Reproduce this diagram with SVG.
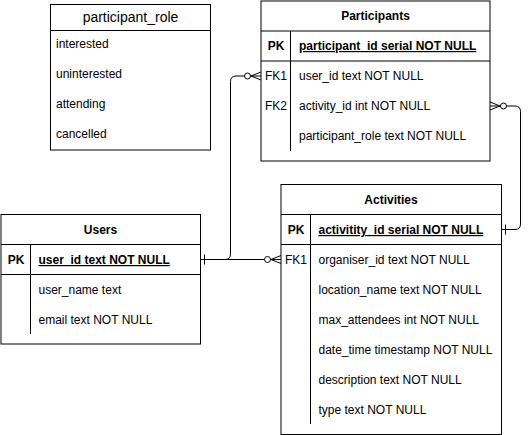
<svg xmlns="http://www.w3.org/2000/svg" width="531" height="435" viewBox="0 0 531 435">
<style>
.box{fill:#fff;stroke:#000;stroke-width:1}
.ln{fill:none;stroke:#000;stroke-width:1}
text{font-family:"Liberation Sans",Arial,sans-serif;font-size:12px;fill:#000}
.t{font-weight:bold;text-anchor:middle}
.k{text-anchor:middle}
.kb{text-anchor:middle;font-weight:bold}
.pk{font-weight:bold;text-decoration:underline}
.enum{font-size:14px;text-anchor:middle}
</style>
<rect width="531" height="435" fill="#fff"/>
<g id="participant_role">
<rect class="box" x="50.5" y="4.5" width="160" height="145.5"/>
<line class="ln" x1="50.5" y1="30.5" x2="210.5" y2="30.5"/>
<text class="enum" x="130.5" y="22">participant_role</text>
<text x="56" y="48">interested</text>
<text x="56" y="78">uninterested</text>
<text x="56" y="108">attending</text>
<text x="56" y="138">cancelled</text>
</g>
<g id="participants">
<rect class="box" x="261" y="1" width="229" height="160"/>
<line class="ln" x1="261" y1="31" x2="490" y2="31"/>
<line class="ln" x1="261" y1="61" x2="490" y2="61"/>
<line class="ln" x1="290.5" y1="31" x2="290.5" y2="151"/>
<text class="t" x="375.5" y="20">Participants</text>
<text class="kb" x="276" y="50">PK</text>
<text class="pk" x="299" y="50">participant_id serial NOT NULL</text>
<text class="k" x="276" y="80">FK1</text>
<text x="299" y="80">user_id text NOT NULL</text>
<text class="k" x="276" y="110">FK2</text>
<text x="299" y="110">activity_id int NOT NULL</text>
<text x="299" y="140">participant_role text NOT NULL</text>
</g>
<g id="users">
<rect class="box" x="1" y="214.5" width="199.5" height="129.5"/>
<line class="ln" x1="1" y1="244.5" x2="200.5" y2="244.5"/>
<line class="ln" x1="1" y1="274.5" x2="200.5" y2="274.5"/>
<line class="ln" x1="30.5" y1="244.5" x2="30.5" y2="334"/>
<text class="t" x="100.5" y="234">Users</text>
<text class="kb" x="16" y="264">PK</text>
<text class="pk" x="38.5" y="264">user_id text NOT NULL</text>
<text x="38.5" y="294">user_name text</text>
<text x="38.5" y="324">email text NOT NULL</text>
</g>
<g id="activities">
<rect class="box" x="281" y="184.5" width="220.5" height="250"/>
<line class="ln" x1="281" y1="214.5" x2="501.5" y2="214.5"/>
<line class="ln" x1="281" y1="244.5" x2="501.5" y2="244.5"/>
<line class="ln" x1="310.5" y1="214.5" x2="310.5" y2="424"/>
<text class="t" x="391" y="204">Activities</text>
<text class="kb" x="296" y="234">PK</text>
<text class="pk" x="318.5" y="234">activitity_id serial NOT NULL</text>
<text class="k" x="296" y="264">FK1</text>
<text x="318.5" y="264">organiser_id text NOT NULL</text>
<text x="318.5" y="294">location_name text NOT NULL</text>
<text x="318.5" y="324">max_attendees int NOT NULL</text>
<text x="318.5" y="354">date_time timestamp NOT NULL</text>
<text x="318.5" y="384">description text NOT NULL</text>
<text x="318.5" y="414">type text NOT NULL</text>
</g>
<g id="connectors">
<path class="ln" d="M200.5,259.5 H225 Q230.5,259.5 230.5,254 V81.5 Q230.5,76 236,76 H244.5"/>
<line class="ln" x1="204.5" y1="254.5" x2="204.5" y2="264.5"/>
<circle class="ln" cx="247.5" cy="76" r="3"/>
<path class="ln" d="M261,72 L251,76 L261,80 M250.5,76 H261"/>
<path class="ln" d="M200.5,259.5 H264.5"/>
<circle class="ln" cx="267.5" cy="259.5" r="3"/>
<path class="ln" d="M281,255.5 L271,259.5 L281,263.5 M270.5,259.5 H281"/>
<path class="ln" d="M506.5,106 H515 Q520.5,106 520.5,111.5 V224 Q520.5,229.5 515,229.5 H501.5"/>
<line class="ln" x1="505.5" y1="224.5" x2="505.5" y2="234.5"/>
<circle class="ln" cx="503.5" cy="106" r="3"/>
<path class="ln" d="M490,102 L500,106 L490,110 M490,106 H500.5"/>
</g>
</svg>
